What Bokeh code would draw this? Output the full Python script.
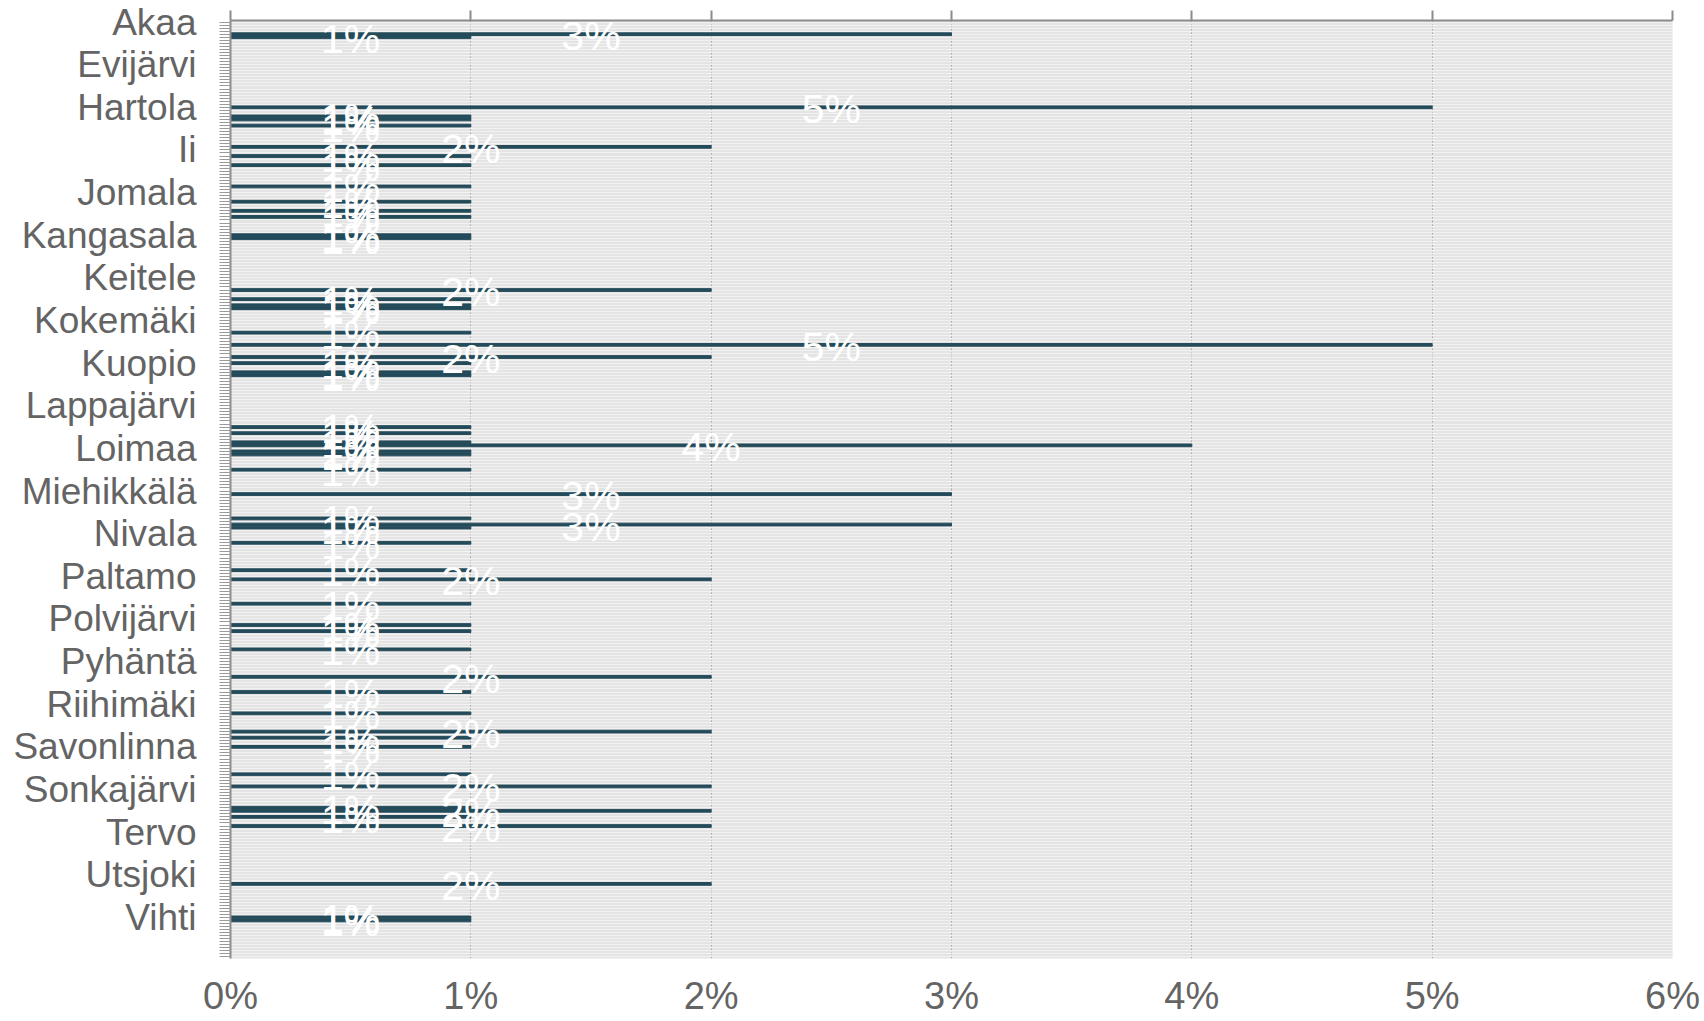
from bokeh.plotting import figure
from bokeh.models import ColumnDataSource, Range1d, FixedTicker, LinearAxis, PrintfTickFormatter
from bokeh.core.properties import value
from bokeh.embed import file_html
from bokeh.resources import INLINE

# All categories (top to bottom)
municipalities = [
    "Akaa", "Alajärvi", "Alavieska", "Alavus", "Asikkala", "Askola", "Aura", "Brändö", "Eckerö", "Enonkoski", "Enontekiö", "Espoo", "Eura", "Eurajoki",
    "Evijärvi", "Finström", "Forssa", "Föglö", "Geta", "Haapajärvi", "Haapavesi", "Hailuoto", "Halsua", "Hamina", "Hammarland", "Hankasalmi", "Hanko", "Harjavalta",
    "Hartola", "Hattula", "Hausjärvi", "Heinola", "Heinävesi", "Helsinki", "Hirvensalmi", "Hollola", "Huittinen", "Humppila", "Hyrynsalmi", "Hyvinkää", "Hämeenkyrö", "Hämeenlinna",
    "Ii", "Iisalmi", "Iitti", "Ikaalinen", "Ilmajoki", "Ilomantsi", "Imatra", "Inari", "Inkoo", "Isojoki", "Isokyrö", "Janakkala", "Joensuu", "Jokioinen",
    "Jomala", "Joroinen", "Joutsa", "Juuka", "Juupajoki", "Juva", "Jyväskylä", "Jämijärvi", "Jämsä", "Järvenpää", "Kaarina", "Kaavi", "Kajaani", "Kalajoki",
    "Kangasala", "Kangasniemi", "Kankaanpää", "Kannonkoski", "Kannus", "Karijoki", "Karkkila", "Karstula", "Karvia", "Kaskinen", "Kauhajoki", "Kauhava", "Kauniainen", "Kaustinen",
    "Keitele", "Kemi", "Kemijärvi", "Keminmaa", "Kempele", "Kerava", "Keuruu", "Kihniö", "Kinnula", "Kirkkonummi", "Kitee", "Kittilä", "Kiuruvesi", "Kivijärvi",
    "Kokemäki", "Kokkola", "Kolari", "Konnevesi", "Kontiolahti", "Korsnäs", "Koski Tl", "Kotka", "Kouvola", "Kristiinankaupunki", "Kruunupyy", "Kuhmo", "Kuhmoinen", "Kumlinge",
    "Kuopio", "Kuortane", "Kurikka", "Kustavi", "Kuusamo", "Kyyjärvi", "Kärkölä", "Kärsämäki", "Kökar", "Lahti", "Laihia", "Laitila", "Lapinjärvi", "Lapinlahti",
    "Lappajärvi", "Lappeenranta", "Lapua", "Laukaa", "Lemi", "Lemland", "Lempäälä", "Leppävirta", "Lestijärvi", "Lieksa", "Lieto", "Liminka", "Liperi", "Lohja",
    "Loimaa", "Loppi", "Loviisa", "Luhanka", "Lumijoki", "Lumparland", "Luoto", "Luumäki", "Maalahti", "Maarianhamina", "Marttila", "Masku", "Merijärvi", "Merikarvia",
    "Miehikkälä", "Mikkeli", "Muhos", "Multia", "Muonio", "Mustasaari", "Muurame", "Mynämäki", "Myrskylä", "Mäntsälä", "Mänttä-Vilppula", "Mäntyharju", "Naantali", "Nakkila",
    "Nivala", "Nokia", "Nousiainen", "Nurmes", "Nurmijärvi", "Närpiö", "Orimattila", "Oripää", "Orivesi", "Oulainen", "Oulu", "Outokumpu", "Padasjoki", "Paimio",
    "Paltamo", "Parainen", "Parikkala", "Parkano", "Pedersöre", "Pelkosenniemi", "Pello", "Perho", "Pertunmaa", "Petäjävesi", "Pieksämäki", "Pielavesi", "Pietarsaari", "Pihtipudas",
    "Polvijärvi", "Pomarkku", "Pori", "Pornainen", "Porvoo", "Posio", "Pudasjärvi", "Pukkila", "Punkalaidun", "Puolanka", "Puumala", "Pyhtää", "Pyhäjoki", "Pyhäjärvi",
    "Pyhäntä", "Pyhäranta", "Pälkäne", "Pöytyä", "Raahe", "Raasepori", "Raisio", "Rantasalmi", "Ranua", "Rauma", "Rautalampi", "Rautavaara", "Rautjärvi", "Reisjärvi",
    "Riihimäki", "Ristijärvi", "Rovaniemi", "Ruokolahti", "Ruovesi", "Rusko", "Rääkkylä", "Saarijärvi", "Salla", "Salo", "Saltvik", "Sastamala", "Sauvo", "Savitaipale",
    "Savonlinna", "Savukoski", "Seinäjoki", "Sievi", "Siikainen", "Siikajoki", "Siikalatva", "Siilinjärvi", "Simo", "Sipoo", "Siuntio", "Sodankylä", "Soini", "Somero",
    "Sonkajärvi", "Sotkamo", "Sottunga", "Sulkava", "Sund", "Suomussalmi", "Suonenjoki", "Sysmä", "Säkylä", "Taipalsaari", "Taivalkoski", "Taivassalo", "Tammela", "Tampere",
    "Tervo", "Tervola", "Teuva", "Tohmajärvi", "Toholampi", "Toivakka", "Tornio", "Turku", "Tuusniemi", "Tuusula", "Tyrnävä", "Ulvila", "Urjala", "Utajärvi",
    "Utsjoki", "Uurainen", "Uusikaarlepyy", "Uusikaupunki", "Vaala", "Vaasa", "Valkeakoski", "Vantaa", "Varkaus", "Vehmaa", "Vesanto", "Vesilahti", "Veteli", "Vieremä",
    "Vihti", "Viitasaari", "Vimpeli", "Virolahti", "Virrat", "Vårdö", "Vöyri", "Ylitornio", "Ylivieska", "Ylöjärvi", "Ypäjä", "Ähtäri", "Äänekoski",
]

# Municipalities with a non-zero share and their shares (%)
bar_municipalities = [
    "Asikkala", "Askola", "Hartola", "Heinola", "Heinävesi", "Hirvensalmi", "Hämeenlinna", "Iitti", "Ilomantsi",
    "Joensuu", "Juuka", "Jyväskylä", "Jämsä", "Kangasala", "Kangasniemi", "Kempele", "Kihniö", "Kirkkonummi",
    "Kitee", "Kontiolahti", "Kouvola", "Kuhmoinen", "Kuopio", "Kustavi", "Kuusamo", "Leppävirta", "Lieksa",
    "Liperi", "Lohja", "Loppi", "Loviisa", "Luumäki", "Mikkeli", "Mäntsälä", "Mäntyharju", "Naantali", "Nurmes",
    "Padasjoki", "Parainen", "Petäjävesi", "Pori", "Porvoo", "Puumala", "Raasepori", "Rautalampi", "Ruokolahti",
    "Salo", "Sastamala", "Savonlinna", "Sipoo", "Somero", "Suonenjoki", "Sysmä", "Taipalsaari", "Tammela",
    "Uusikaupunki", "Vihti", "Viitasaari",
]
bar_values = [
    3, 1, 5, 1, 1, 1, 2, 1, 1,
    1, 1, 1, 1, 1, 1, 2, 1, 1,
    1, 1, 5, 2, 1, 1, 1, 1, 1,
    1, 4, 1, 1, 1, 3, 1, 3, 1, 1,
    1, 2, 1, 1, 1, 1, 2, 1, 1,
    2, 1, 1, 1, 2, 1, 2, 1, 2,
    2, 1, 1,
]

x_ticks = [0, 1, 2, 3, 4, 5, 6]
label_step = 14

bar_index = [municipalities.index(m) for m in bar_municipalities]
src = ColumnDataSource(dict(
    y=bar_index,
    right=bar_values,
    mid=[v / 2 for v in bar_values],
    label=[f"{v}%" for v in bar_values],
))

n_bands = len(municipalities) + 1
FONT = "Liberation Sans"
GREY_TXT = "#646464"
AXIS_GREY = "#8c8c8c"

p = figure(width=1704, height=1021, output_backend="svg", toolbar_location=None,
           x_range=Range1d(0, 6), y_range=Range1d(n_bands - 0.5, -0.5),
           min_border_left=230, min_border_right=32, min_border_top=20, min_border_bottom=63)
p.background_fill_color = "#e4e4e4"
p.border_fill_color = "white"
p.outline_line_color = None

p.hbar(y="y", left=0, right="right", height=0.9, color="#244b5a", source=src)
p.text(x="mid", y="y", text="label", source=src, text_align="center", text_baseline="middle",
       y_offset=2, text_color="white", text_font=value(FONT), text_font_size="41px")

# bottom axis
xb = p.below[0]
xb.ticker = FixedTicker(ticks=x_ticks)
xb.formatter = PrintfTickFormatter(format="%d%%")
xb.axis_line_color = None
xb.major_tick_line_color = None
xb.minor_tick_line_color = None
xb.major_label_text_font = FONT
xb.major_label_text_font_size = "38px"
xb.major_label_text_color = GREY_TXT
xb.major_label_standoff = 10

# left axis
yl = p.left[0]
yl.ticker = FixedTicker(ticks=list(range(n_bands)))
yl.major_label_overrides = {
    i: (municipalities[i] if (i % label_step == 0 and i < len(municipalities)) else "")
    for i in range(n_bands)
}
yl.major_tick_out = 11
yl.major_tick_in = 0
yl.major_tick_line_color = "#9a9a9a"
yl.minor_tick_line_color = None
yl.axis_line_color = AXIS_GREY
yl.axis_line_width = 2
yl.major_label_text_font = FONT
yl.major_label_text_font_size = "37px"
yl.major_label_text_color = GREY_TXT
yl.major_label_standoff = 23

# top axis (ticks only, no labels)
xt = LinearAxis(ticker=FixedTicker(ticks=x_ticks), major_tick_out=10, major_tick_in=0,
                major_label_overrides={t: "" for t in x_ticks}, major_label_standoff=0,
                axis_line_color=AXIS_GREY, axis_line_width=2,
                major_tick_line_color=AXIS_GREY, major_tick_line_width=2,
                minor_tick_line_color=None)
p.add_layout(xt, "above")

p.xgrid.grid_line_color = "#a6a6a6"
p.xgrid.grid_line_dash = "2 2"
p.xgrid.grid_line_width = 1
p.ygrid.grid_line_color = "#f2f2f2"
p.ygrid.grid_line_width = 1

with open("out.html", "w", encoding="utf-8") as f:
    f.write(file_html(p, INLINE))
